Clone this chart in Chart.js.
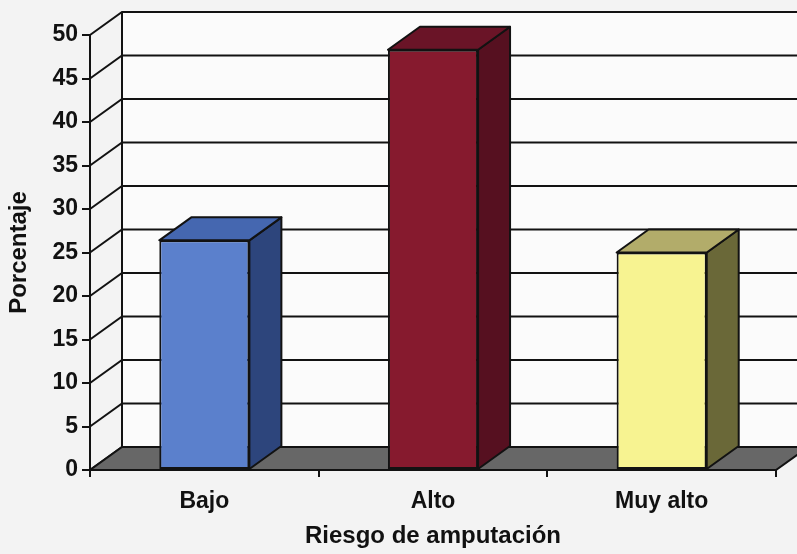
<!DOCTYPE html>
<html>
<head>
<meta charset="utf-8">
<script src="https://cdn.jsdelivr.net/npm/chart.js@4.4.0/dist/chart.umd.min.js"></script>
<style>
  body { margin: 0; background: #f3f3f3; }
  #wrap { width: 797px; height: 554px; position: relative; }
</style>
</head>
<body>
<div id="wrap"><canvas id="myChart"></canvas></div>
<script>
// datos
var categorias = ['Bajo', 'Alto', 'Muy alto'];
var porcentajes = [26.4, 48.3, 25.0];
var colorFrente = ['#5b80cc', '#861a2e', '#f7f391'];
var colorLado = ['#2d457c', '#561020', '#6a6838'];
var colorArriba = ['#4567b0', '#6a1427', '#b2ac6a'];

var DX = 32, DY = -23;   // profundidad del efecto 3D
var linea = '#121212';
var fuente = "'Liberation Sans', Arial, sans-serif";

// paredes, piso y lineas de fondo
var fondo3d = {
    id: 'fondo3d',
    beforeDraw: function(chart) {
        var c = chart.ctx, a = chart.chartArea;
        var ys = chart.scales.y;
        c.save();
        c.fillStyle = '#f3f3f3';
        c.fillRect(0, 0, chart.width, chart.height);
        // pared del fondo
        c.fillStyle = '#fbfbfb';
        c.fillRect(a.left + DX, a.top + DY, a.right - a.left + 40, a.bottom - a.top);
        c.strokeStyle = linea;
        c.lineWidth = 2;
        ys.ticks.forEach(function(t) {
            var y = ys.getPixelForValue(t.value);
            c.beginPath();
            c.moveTo(a.left, y);
            c.lineTo(a.left + DX, y + DY);
            c.lineTo(chart.width + 5, y + DY);
            c.stroke();
        });
        c.beginPath();
        c.moveTo(a.left + DX, a.top + DY);
        c.lineTo(a.left + DX, a.bottom + DY);
        c.stroke();
        // piso
        c.beginPath();
        c.moveTo(a.left, a.bottom);
        c.lineTo(a.right, a.bottom);
        c.lineTo(a.right + DX, a.bottom + DY);
        c.lineTo(a.left + DX, a.bottom + DY);
        c.closePath();
        c.fillStyle = '#676767';
        c.fill();
        c.stroke();
        c.restore();
    },
    afterDatasetsDraw: function(chart) {
        var c = chart.ctx;
        var meta = chart.getDatasetMeta(0);
        c.save();
        c.strokeStyle = linea;
        c.lineWidth = 2;
        c.lineJoin = 'round';
        meta.data.forEach(function(bar, i) {
            var p = bar.getProps(['x', 'y', 'base', 'width'], true);
            var xl = p.x - p.width / 2, xr = p.x + p.width / 2;
            // lado
            c.beginPath();
            c.moveTo(xr, p.y);
            c.lineTo(xr + DX, p.y + DY);
            c.lineTo(xr + DX, p.base + DY);
            c.lineTo(xr, p.base);
            c.closePath();
            c.fillStyle = colorLado[i];
            c.fill();
            c.stroke();
            // tapa
            c.beginPath();
            c.moveTo(xl, p.y);
            c.lineTo(xl + DX, p.y + DY);
            c.lineTo(xr + DX, p.y + DY);
            c.lineTo(xr, p.y);
            c.closePath();
            c.fillStyle = colorArriba[i];
            c.fill();
            c.stroke();
        });
        c.restore();
    }
};

const ctx = document.getElementById('myChart').getContext('2d');
const myChart = new Chart(ctx, {
    type: 'bar',
    data: {
        labels: categorias,
        datasets: [{
            label: 'Porcentaje',
            data: porcentajes,
            backgroundColor: colorFrente,
            borderColor: linea,
            borderWidth: 2,
            borderSkipped: false,
            barPercentage: 0.394,
            categoryPercentage: 1
        }]
    },
    options: {
        responsive: true,
        maintainAspectRatio: false,
        animation: false,
        layout: { padding: { left: 0, top: 35, right: 21, bottom: 0 } },
        plugins: { legend: { display: false }, tooltip: { enabled: false } },
        scales: {
            x: {
                afterFit: function(s) { s.height = 84; },
                grid: { offset: true, drawOnChartArea: false, tickLength: 7, color: linea, lineWidth: 2 },
                border: { display: true, color: linea, width: 2 },
                ticks: { color: '#111', padding: 11, font: { family: fuente, size: 23, weight: 'bold' } },
                title: { display: true, text: 'Riesgo de amputación', color: '#111',
                         padding: { top: 0, bottom: 3 }, font: { family: fuente, size: 24, weight: 'bold' } }
            },
            y: {
                min: 0,
                max: 50,
                afterFit: function(s) { s.width = 90; },
                grid: { drawOnChartArea: false, tickLength: 8, color: linea, lineWidth: 2 },
                border: { display: true, color: linea, width: 2 },
                ticks: { stepSize: 5, color: '#111', padding: 4, font: { family: fuente, size: 23, weight: 'bold' } },
                title: { display: true, text: 'Porcentaje', color: '#111',
                         padding: { top: 5, bottom: 0 }, font: { family: fuente, size: 24, weight: 'bold' } }
            }
        }
    },
    plugins: [fondo3d]
});
</script>
</body>
</html>
